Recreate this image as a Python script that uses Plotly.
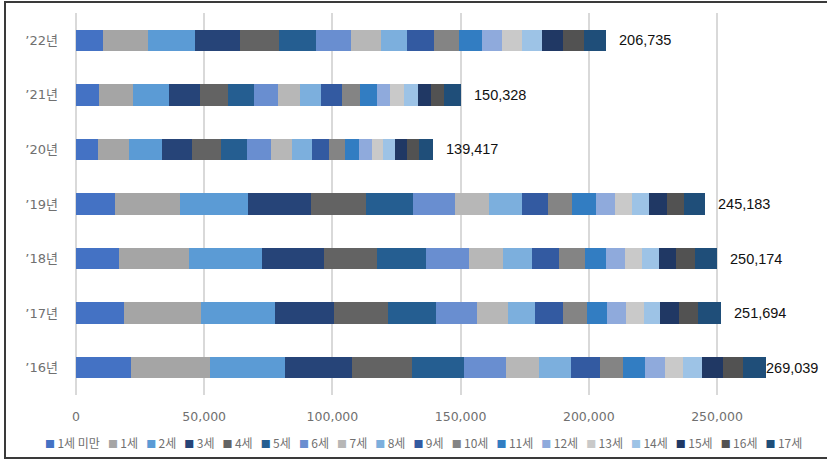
import plotly.graph_objects as go

# Year categories (bottom to top) and age groups
years = ["’16년", "’17년", "’18년", "’19년", "’20년", "’21년", "’22년"]
ages = ["1세 미만", "1세", "2세", "3세", "4세", "5세", "6세", "7세", "8세", "9세",
        "10세", "11세", "12세", "13세", "14세", "15세", "16세", "17세"]
colors = ["#4472C4", "#A5A5A5", "#5B9BD5", "#264478", "#636363", "#255E91",
          "#698ED0", "#B7B7B7", "#7CAFDD", "#335AA1", "#848484", "#327DC2",
          "#8FAADC", "#C9C9C9", "#9DC3E6", "#203864", "#525252", "#1F4E79"]

# Counts per age group for each year
y2016 = [21330, 30930, 29370, 26010, 23400, 20280, 16260, 12870, 12710, 11190,
         8970, 8700, 7680, 7140, 7180, 8190, 8030, 8799]
y2017 = [18600, 30150, 28740, 23010, 21060, 18840, 15990, 11970, 10760, 10920,
         9360, 7800, 7180, 7140, 6360, 7180, 7410, 9224]
y2018 = [16770, 27420, 28350, 24300, 20670, 18990, 16650, 13380, 11310, 10410,
         10260, 8190, 7290, 6630, 6750, 6750, 7290, 8764]
y2019 = [15090, 25470, 26640, 24340, 21570, 18450, 16150, 13490, 12640, 10260,
         9480, 9130, 7640, 6630, 6400, 7250, 6510, 8043]
y2020 = [8700, 12090, 12640, 11820, 11190, 10370, 9360, 8070, 7800, 6750,
         6240, 5460, 4840, 4290, 4800, 4560, 4800, 5637]
y2021 = [8780, 13420, 14040, 12090, 10760, 10410, 9360, 8580, 8190, 8070,
         7140, 6360, 5340, 5460, 5340, 5070, 5300, 6618]
y2022 = [10410, 17550, 18450, 17550, 15210, 14430, 13650, 11700, 10260, 10410,
         9870, 8970, 7680, 7800, 7920, 8190, 8070, 8615]

rows = [y2016, y2017, y2018, y2019, y2020, y2021, y2022]
totals = [sum(r) for r in rows]

W, H = 827, 460
L, R, T, B = 76, 0, 13, 65
plot_w, plot_h = W - L - R, H - T - B
x_max = 292900

GRAY = "#707070"
FONT = "DejaVu Sans, Noto Sans CJK KR, sans-serif"

fig = go.Figure()
for i, age in enumerate(ages):
    fig.add_trace(go.Bar(
        y=years, x=[r[i] for r in rows], name=age, orientation="h",
        marker=dict(color=colors[i], line=dict(width=0)),
        showlegend=False, hoverinfo="name+x",
    ))

annotations = []
# Total labels at the end of each bar
for yr, tot in zip(years, totals):
    shift = 11 if tot < 260000 else -2
    annotations.append(dict(
        x=tot, y=yr, xref="x", yref="y", text=f"{tot:,}", showarrow=False,
        xanchor="left", yanchor="middle", xshift=shift,
        font=dict(family="Liberation Sans, Arial, sans-serif", size=14.5, color="#111111"),
    ))

# Legend row built from the age labels and colours
items = []
for age, c in zip(ages, colors):
    items.append(f"<span style='color:{c};font-size:10px'>■</span>"
                 f"<span style='color:{GRAY}'>\u2009{age}</span>")
legend_text = "\u00a0\u00a0\u00a0".join(items)
annotations.append(dict(
    x=(423 - L) / plot_w, y=(T + plot_h - 442) / plot_h, xref="paper", yref="paper",
    text=legend_text, showarrow=False, xanchor="center", yanchor="middle",
    font=dict(family="Noto Sans CJK KR, sans-serif", size=12, color=GRAY),
))

fig.update_layout(
    width=W, height=H,
    margin=dict(l=L, r=R, t=T, b=B, pad=0),
    barmode="stack", bargap=0.606,
    paper_bgcolor="white", plot_bgcolor="white",
    font=dict(family=FONT, color=GRAY),
    annotations=annotations,
    shapes=[dict(
        type="rect", xref="paper", yref="paper", layer="above",
        x0=(5 - L) / plot_w, x1=1.05,
        y0=(T + plot_h - 458) / plot_h, y1=(T + plot_h - 2) / plot_h,
        line=dict(color="#3a3a3a", width=2), fillcolor="rgba(0,0,0,0)",
    )],
)
fig.update_xaxes(
    range=[0, x_max], tickvals=[0, 50000, 100000, 150000, 200000, 250000],
    ticktext=["0", "50,000", "100,000", "150,000", "200,000", "250,000"],
    showgrid=True, gridcolor="#d9d9d9", gridwidth=1.5,
    zeroline=True, zerolinecolor="#d9d9d9", zerolinewidth=1.5,
    showline=False, ticks="", ticklabelstandoff=12,
    tickfont=dict(size=12.5, color=GRAY, family=FONT),
)
fig.update_yaxes(
    categoryorder="array", categoryarray=years,
    showgrid=False, zeroline=False, showline=False, ticks="",
    ticklabelstandoff=17,
    tickfont=dict(size=13, color=GRAY, family=FONT),
)

fig.write_html("out.html")
